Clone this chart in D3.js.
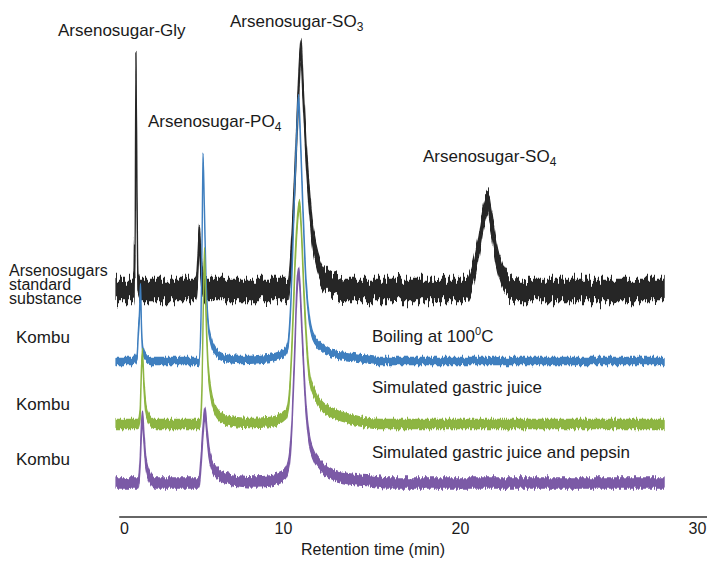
<!DOCTYPE html>
<html>
<head>
<meta charset="utf-8">
<script src="https://cdn.jsdelivr.net/npm/d3@7"></script>
<style>
  body { margin: 0; background: #fff; }
  text { font-family: "Liberation Sans", Arial, sans-serif; fill: #1a1a1a; }
</style>
</head>
<body>
<svg></svg>
<script>
const width = 707;
const height = 562;

// x ticks as printed on the original axis
const xTicks = [0, 10, 20, 30];

// each trace: [retention time (min), signal above its own baseline]
const standardTrace = [[-0.5,0],[0.57,0],[0.63,5],[0.66,40],[0.69,25],[0.75,225],[0.82,90],[0.88,8],[1.01,0],
  [4.53,0],[4.65,25],[4.75,54],[4.84,25],[5.03,4],[5.16,0],
  [10.28,0],[10.45,30],[10.62,90],[10.79,160],[10.90,210],[11.02,240],[11.13,200],[11.30,140],[11.47,95],[11.64,60],[11.86,35],[12.09,20],[12.43,10],[12.94,4],[13.50,0],
  [20.21,0],[20.51,12],[20.76,40],[21.01,75],[21.18,86],[21.31,70],[21.52,38],[21.77,15],[22.11,3],[22.45,0],[28.61,0]];

const boilingTrace = [[-0.5,0],[0.57,0],[0.82,5],[0.91,30],[0.97,45],[1.04,75],[1.10,35],[1.19,10],[1.38,3],[1.64,0],
  [4.72,0],[4.84,40],[4.91,120],[4.97,205],[5.06,150],[5.16,80],[5.28,40],[5.47,20],[5.72,10],[6.04,5],[6.67,2],[7.30,1],
  [9.18,3],[9.81,6],[10.11,9],[10.28,16],[10.45,60],[10.62,150],[10.79,235],[10.88,262],[10.96,235],[11.13,150],[11.30,80],[11.47,45],[11.69,25],[12.09,15],[12.66,8],[13.50,5],[14.35,3],[15.48,0],[28.61,0]];

const gastricTrace = [[-0.5,0],[0.88,0],[1.01,10],[1.10,55],[1.16,70],[1.26,38],[1.38,15],[1.57,5],[1.95,0],
  [4.78,0],[4.91,40],[5.00,130],[5.06,172],[5.16,110],[5.28,60],[5.47,30],[5.72,15],[6.16,6],[6.98,2],[7.92,1],
  [9.18,2],[10.17,10],[10.34,25],[10.51,80],[10.68,160],[10.85,212],[10.93,220],[11.02,200],[11.19,130],[11.36,75],[11.53,45],[11.81,30],[12.20,18],[12.94,10],[13.79,5],[15.48,0],[28.61,0]];

const pepsinTrace = [[-0.5,0],[0.88,0],[1.01,20],[1.10,55],[1.16,68],[1.26,45],[1.38,20],[1.64,5],[1.95,0],
  [4.72,0],[4.84,20],[4.97,52],[5.09,71],[5.22,50],[5.35,30],[5.53,18],[5.85,10],[6.35,5],[7.30,2],[8.24,1],
  [9.18,2],[10.11,8],[10.34,20],[10.51,60],[10.68,140],[10.79,195],[10.88,211],[10.96,195],[11.13,130],[11.30,75],[11.47,45],[11.69,30],[12.09,18],[12.66,10],[13.50,5],[14.92,2],[16.05,0],[28.61,0]];

// stacking offset of every trace and its noise half-band
const traceOffsets = [222, 151, 88, 29];
const traceNoise = [10.5, 3.5, 4.5, 5];
const traceColors = ["#262626", "#3f7fbf", "#8db542", "#7b5aa6"];
const noiseScale = [22, 7, 8, 9];
const traces = [standardTrace, boilingTrace, gastricTrace, pepsinTrace];

const sampleLabels = [["Arsenosugars", "standard", "substance"], ["Kombu"], ["Kombu"], ["Kombu"]];
const conditionLabels = ["", "Boiling at 100", "Simulated gastric juice", "Simulated gastric juice and pepsin"];
const peakNames = [["Arsenosugar-Gly", ""], ["Arsenosugar-SO", "3"], ["Arsenosugar-PO", "4"], ["Arsenosugar-SO", "4"]];

// layout for text
const peakLabelPos = [[58, 36], [230, 27], [148, 127], [423, 162]];
const sampleLabelPos = [[9, 276, 14], [16, 343], [16, 410], [16, 465]];
const conditionLabelY = [0, 342, 393, 458];

const svg = d3.select("svg").attr("width", width).attr("height", height);

const x = d3.scaleLinear().domain(xTicks).range([124, 283, 460, 697]);
const y = d3.scaleLinear().domain([0, 500]).range([512, 12]);

// jagged detector-noise look: shift each pixel column up/down a little
const defs = svg.append("defs");
noiseScale.forEach(function(s, i) {
    const f = defs.append("filter")
        .attr("id", "noise" + i)
        .attr("x", "-2%").attr("y", "-10%")
        .attr("width", "104%").attr("height", "120%")
        .attr("color-interpolation-filters", "sRGB");
    f.append("feTurbulence")
        .attr("type", "fractalNoise")
        .attr("baseFrequency", "0.55 0.012")
        .attr("numOctaves", 2)
        .attr("seed", 4 + i)
        .attr("result", "turb");
    f.append("feColorMatrix")
        .attr("in", "turb")
        .attr("type", "matrix")
        .attr("values", "0 0 0 0 0.5  1 0 0 0 0  0 0 0 0 0  0 0 0 0 1")
        .attr("result", "map");
    f.append("feDisplacementMap")
        .attr("in", "SourceGraphic")
        .attr("in2", "map")
        .attr("scale", s)
        .attr("xChannelSelector", "R")
        .attr("yChannelSelector", "G");
});

traces.forEach(function(trace, i) {
    const off = traceOffsets[i], n = traceNoise[i];
    const band = d3.area()
        .x(d => x(d[0]))
        .y0(d => y(off + d[1] - n))
        .y1(d => y(off + d[1] + n))
        .curve(d3.curveMonotoneX);
    svg.append("path")
        .attr("d", band(trace))
        .attr("fill", traceColors[i])
        .attr("stroke", traceColors[i])
        .attr("stroke-width", 1.3)
        .attr("stroke-linejoin", "round")
        .attr("filter", "url(#noise" + i + ")");
});

// x axis
const axisY = y(-5);
svg.append("line")
    .attr("x1", x(-0.3)).attr("x2", width)
    .attr("y1", axisY).attr("y2", axisY)
    .attr("stroke", "#333").attr("stroke-width", 1.5);

const xAxis = svg.append("g")
    .attr("transform", "translate(0," + axisY + ")")
    .call(d3.axisBottom(x).tickValues(xTicks).tickSize(0).tickPadding(6));
xAxis.select(".domain").remove();
xAxis.selectAll("text")
    .style("font-family", '"Liberation Sans", Arial, sans-serif')
    .attr("font-size", 16)
    .attr("fill", "#1a1a1a");

svg.append("text")
    .attr("x", 373).attr("y", 555)
    .attr("text-anchor", "middle")
    .attr("font-size", 16)
    .text("Retention time (min)");

// peak names
peakNames.forEach(function(p, i) {
    const t = svg.append("text")
        .attr("x", peakLabelPos[i][0]).attr("y", peakLabelPos[i][1])
        .attr("font-size", 17)
        .text(p[0]);
    if (p[1]) {
        t.append("tspan").attr("font-size", 12).attr("dy", 4).text(p[1]);
    }
});

// sample names on the left
sampleLabels.forEach(function(lines, i) {
    const pos = sampleLabelPos[i];
    const t = svg.append("text")
        .attr("x", pos[0]).attr("y", pos[1])
        .attr("font-size", lines.length > 1 ? 16 : 17);
    lines.forEach(function(l, j) {
        t.append("tspan").attr("x", pos[0]).attr("dy", j === 0 ? 0 : pos[2]).text(l);
    });
});

// treatment labels
conditionLabels.forEach(function(c, i) {
    if (!c) return;
    const t = svg.append("text")
        .attr("x", 372).attr("y", conditionLabelY[i])
        .attr("font-size", 17)
        .text(c);
    if (i === 1) {
        t.append("tspan").attr("font-size", 11).attr("dy", -7).text("0");
        t.append("tspan").attr("font-size", 17).attr("dy", 7).text("C");
    }
});
</script>
</body>
</html>
